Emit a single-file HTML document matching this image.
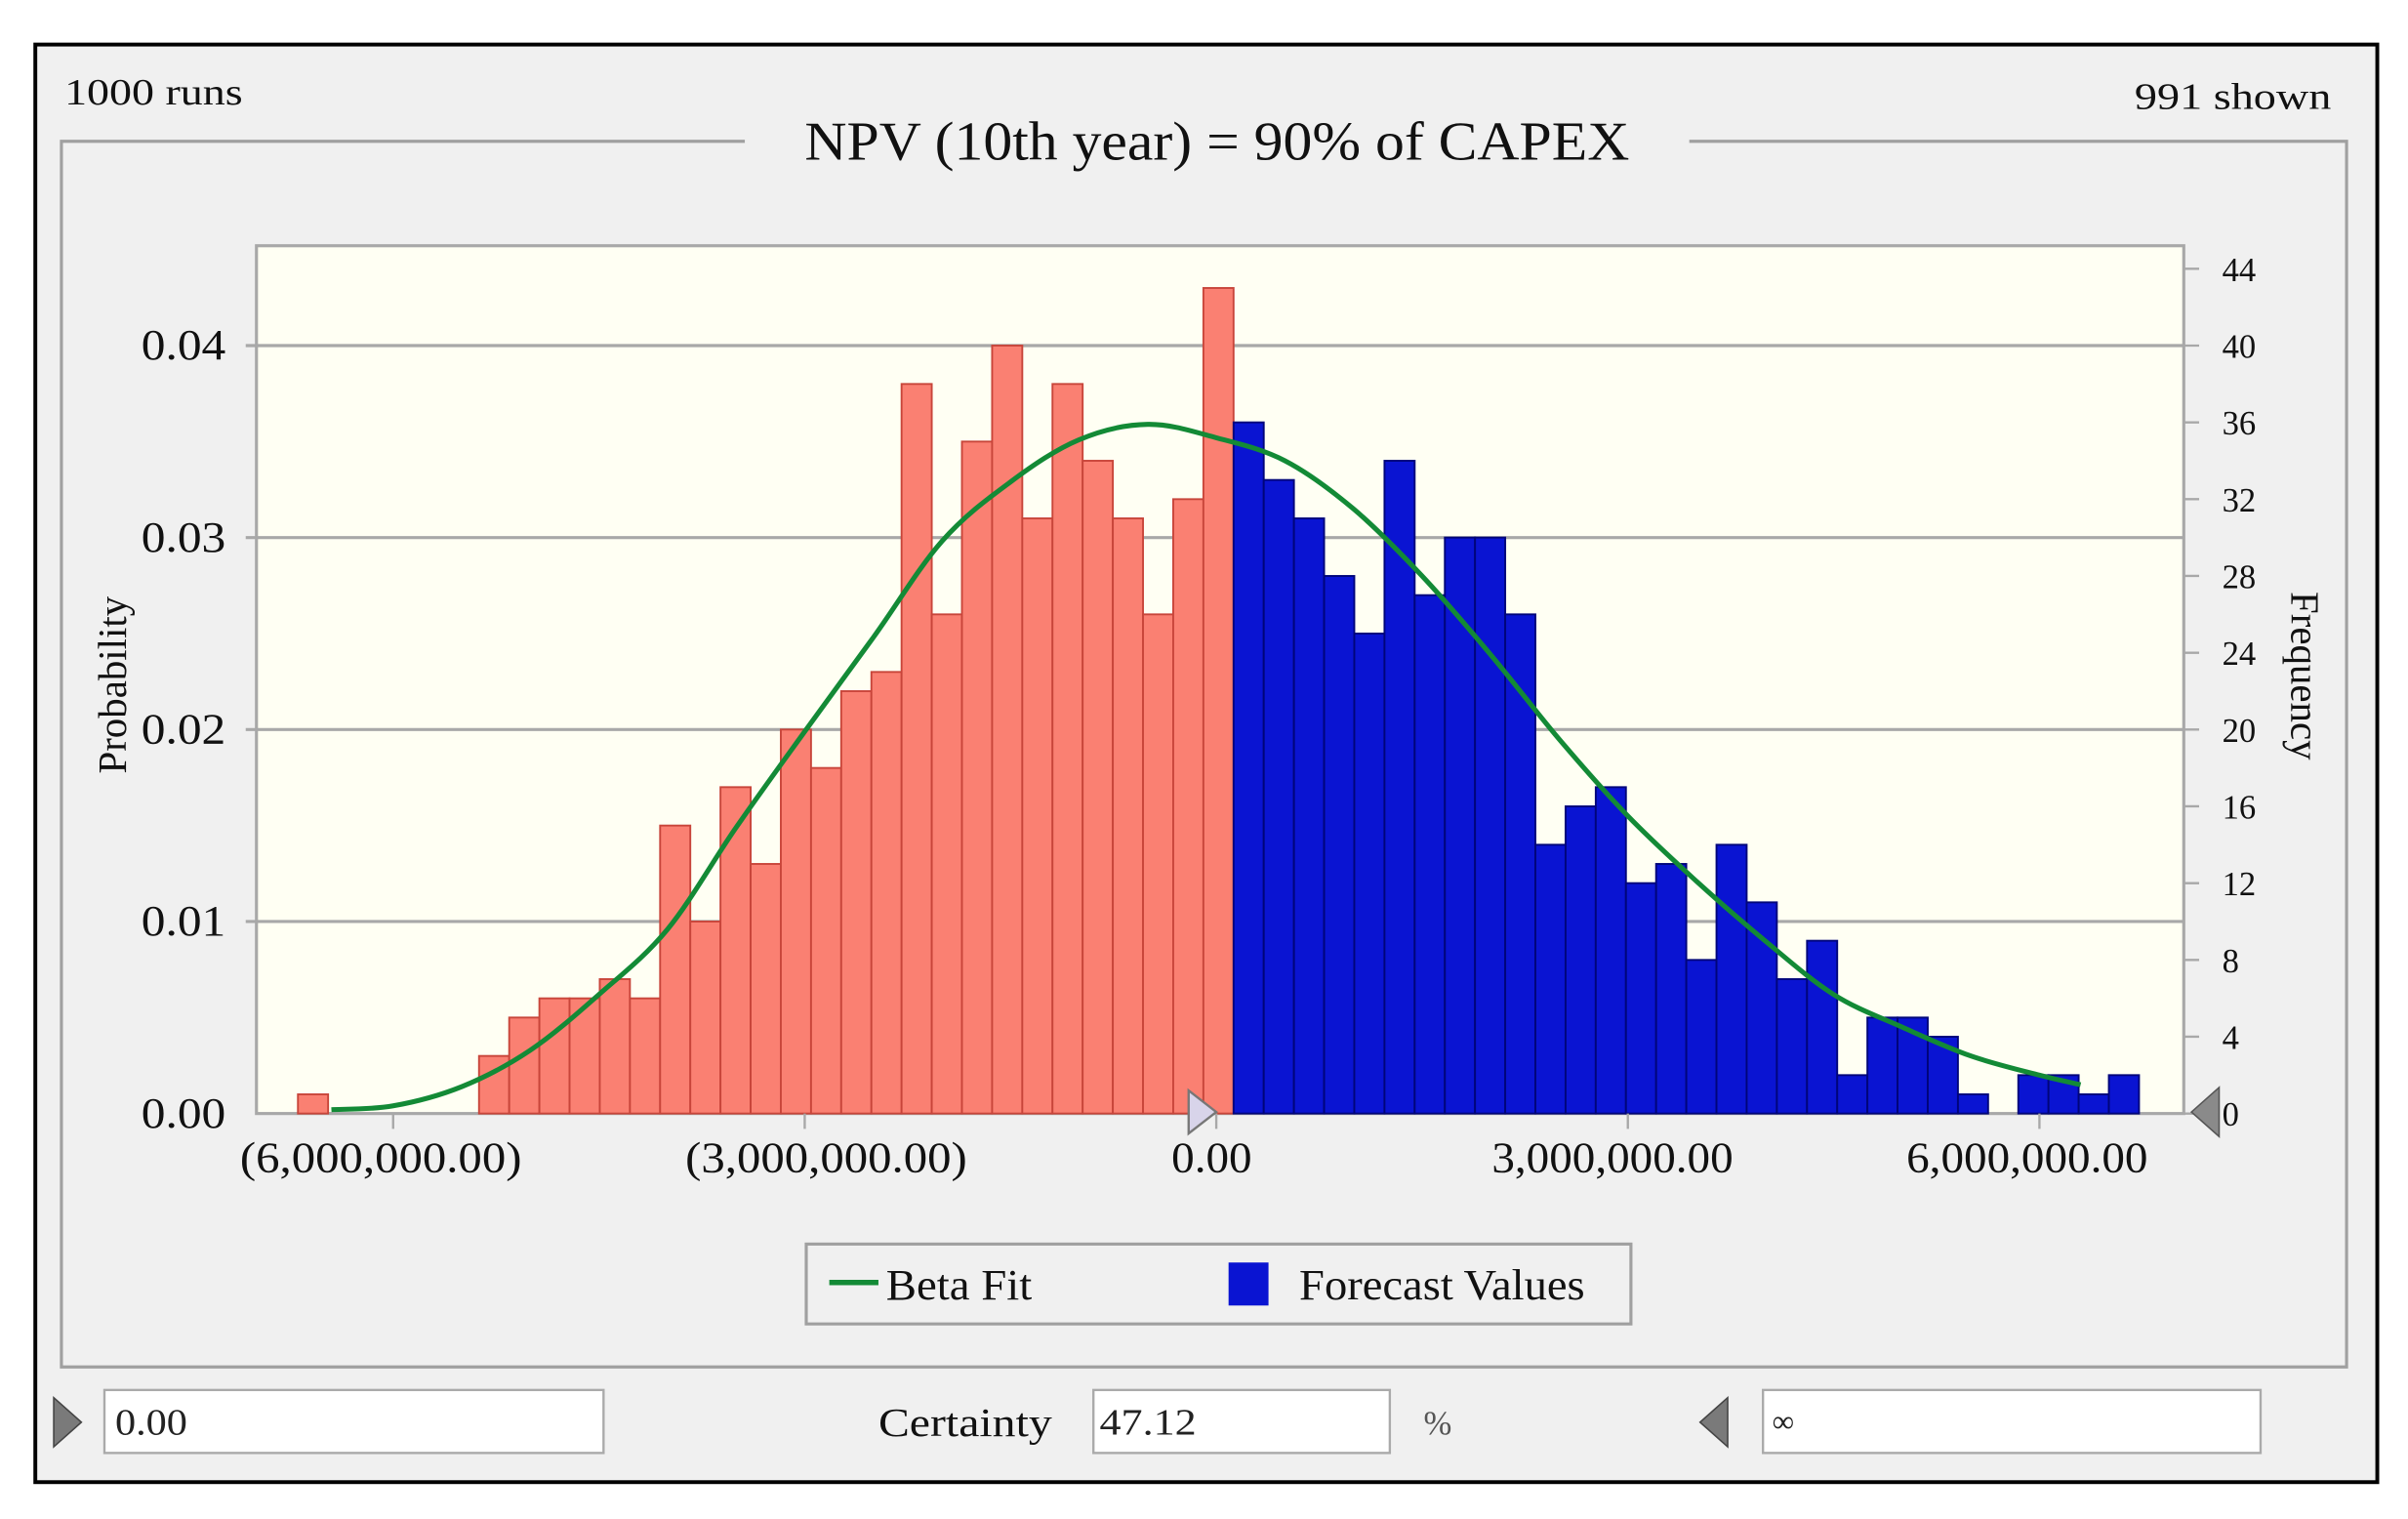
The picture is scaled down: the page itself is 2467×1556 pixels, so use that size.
<!DOCTYPE html>
<html><head><meta charset="utf-8"><style>
html,body{margin:0;padding:0;background:#fff;}
svg{display:block;font-family:"Liberation Serif",serif;}
</style></head><body>
<svg id="chart" width="2467" height="1556" viewBox="0 0 1568 989" preserveAspectRatio="none" xmlns="http://www.w3.org/2000/svg">
<rect x="0" y="0" width="1568" height="989" fill="#fff"/>
<rect x="23" y="29" width="1525" height="936" fill="#f0f0f0" stroke="#000" stroke-width="2.5"/>
<text x="42" y="68" font-size="24" fill="#111" textLength="116" lengthAdjust="spacingAndGlyphs">1000 runs</text>
<text x="1390" y="71" font-size="24" fill="#111" textLength="128" lengthAdjust="spacingAndGlyphs">991 shown</text>
<path d="M485,92 H40 V890 H1528 V92 H1100" fill="none" stroke="#a0a0a0" stroke-width="2"/>
<text x="524" y="104" font-size="36" fill="#111" textLength="537" lengthAdjust="spacingAndGlyphs">NPV (10th year) = 90% of CAPEX</text>
<rect x="167" y="160" width="1255" height="565" fill="#fffff3" stroke="#a8a8a8" stroke-width="2"/>
<g id="grid"></g>
<g id="bars"></g>
<path id="fit" fill="none" stroke="#138a36" stroke-width="3.2"/>
<g id="axes"></g>
<text transform="translate(82,446) rotate(-90)" font-size="26" text-anchor="middle" fill="#111">Probability</text>
<text transform="translate(1492,440) rotate(90)" font-size="26" text-anchor="middle" fill="#111">Frequency</text>
<polygon points="774,710 792,724 774,738" fill="#d8d4ea" stroke="#777" stroke-width="1.5"/>
<polygon points="1445,708 1427,724 1445,740" fill="#8a8a8a" stroke="#555" stroke-width="1"/>
<g>
<rect x="525" y="810" width="537" height="52" fill="#f0f0f0" stroke="#a0a0a0" stroke-width="2"/>
<line x1="540" y1="835" x2="572" y2="835" stroke="#138a36" stroke-width="3.5"/>
<text x="577" y="846" font-size="28" fill="#111" textLength="95" lengthAdjust="spacingAndGlyphs">Beta Fit</text>
<rect x="800" y="822" width="26" height="28" fill="#0a14d2"/>
<text x="846" y="846" font-size="28" fill="#111" textLength="186" lengthAdjust="spacingAndGlyphs">Forecast Values</text>
</g>
<polygon points="35,910 53,926 35,942" fill="#7a7a7a" stroke="#444" stroke-width="1"/>
<rect x="68" y="905" width="325" height="41" fill="#fff" stroke="#aaa" stroke-width="1.5"/>
<text x="75" y="934" font-size="24" fill="#222" textLength="47" lengthAdjust="spacingAndGlyphs">0.00</text>
<text x="572" y="935" font-size="26" fill="#111" textLength="113" lengthAdjust="spacingAndGlyphs">Certainty</text>
<rect x="712" y="905" width="193" height="41" fill="#fff" stroke="#aaa" stroke-width="1.5"/>
<text x="716" y="934" font-size="24" fill="#222" textLength="63" lengthAdjust="spacingAndGlyphs">47.12</text>
<text x="927" y="934" font-size="22" fill="#555">%</text>
<polygon points="1125,910 1107,926 1125,942" fill="#7a7a7a" stroke="#444" stroke-width="1"/>
<rect x="1148" y="905" width="324" height="41" fill="#fff" stroke="#aaa" stroke-width="1.5"/>
<text x="1154" y="932" font-size="20" fill="#222">∞</text>
</svg>
<script>
// bin counts (frequency), bins of width 0.22M starting at -6.694M
const counts = [1,0,0,0,0,0,3,5,6,6,7,6,15,10,17,13,20,18,22,23,38,26,35,40,31,38,34,31,26,32,43,
36,33,31,28,25,34,27,30,30,26,14,16,17,12,13,8,14,11,7,9,2,5,5,4,1,0,2,2,1,2];
const binStart = -6.694; // millions
const binWidth = 0.22;   // millions
const certaintyStart = 0; // millions
// beta fit curve
const fitX = [-6.45,-6.0,-5.5,-5.0,-4.5,-4.0,-3.5,-3.0,-2.5,-2.0,-1.5,-1.0,-0.5,0,0.5,1.0,1.5,2.0,2.5,3.0,3.5,4.0,4.5,5.0,5.5,6.0,6.3];
const fitP = [0.0002,0.0004,0.0014,0.0033,0.0062,0.0096,0.0149,0.0199,0.0248,0.0298,0.0329,0.0351,0.0359,0.0352,0.034,0.0315,0.028,0.0239,0.0195,0.0155,0.0121,0.009,0.0062,0.0045,0.003,0.002,0.0015];
const probTicks = [0,0.01,0.02,0.03,0.04];
const probLabels = ["0.00","0.01","0.02","0.03","0.04"];
const freqTicks = [0,4,8,12,16,20,24,28,32,36,40,44];
const xTicks = [-6,-3,0,3,6];
const xLabels = ["(6,000,000.00)","(3,000,000.00)","0.00","3,000,000.00","6,000,000.00"];

const NS = "http://www.w3.org/2000/svg";
const X = v => 792 + v * 268 / 3;
const YP = p => 725 - p * 12500;
const YF = c => 725 - c * 12.5;
function mk(tag, attrs, parent, txt){
  const e = document.createElementNS(NS, tag);
  for (const k in attrs) e.setAttribute(k, attrs[k]);
  if (txt !== undefined) e.textContent = txt;
  parent.appendChild(e); return e;
}
const grid = document.getElementById('grid');
const axes = document.getElementById('axes');
probTicks.forEach((p,i)=>{
  const y = YP(p);
  if (p > 0) {
    const g = mk('line',{x1:160,x2:1422,y1:y,y2:y,stroke:'#a8a8a8','stroke-width':2},grid);
    
    
  }
  const t = mk('text',{x:92,y:y+9,'font-size':28,fill:'#111',textLength:55,lengthAdjust:'spacingAndGlyphs'},axes,probLabels[i]);
  
  
});
freqTicks.forEach(c=>{
  const y = YF(c);
  mk('line',{x1:1422,x2:1432,y1:y,y2:y,stroke:'#a8a8a8','stroke-width':1.5},axes);
  const t = mk('text',{x:1447,y:y+8,'font-size':22,fill:'#111'},axes,String(c));
  
  
});
const labelNudge = [-8, 14, -3, -10, -8]; // layout only
xTicks.forEach((v,i)=>{
  const x = X(v);
  mk('line',{x1:x,x2:x,y1:725,y2:735,stroke:'#a8a8a8','stroke-width':1.5},axes);
  const len = xLabels[i].length * 13.1;
  const t = mk('text',{x:x + labelNudge[i] - len/2,y:763,'font-size':28,fill:'#111',textLength:len,lengthAdjust:'spacingAndGlyphs'},axes,xLabels[i]);
  
  
});
const bars = document.getElementById('bars');
counts.forEach((c,i)=>{
  if (c <= 0) return;
  const s = binStart + i*binWidth;
  const red = s < certaintyStart;
  const x0 = X(s), x1 = X(s+binWidth);
  const r = mk('rect',{x:x0,y:YF(c),width:x1-x0,height:YF(0)-YF(c),
    fill: red ? '#fa8072' : '#0a14d2', stroke: red ? '#c8453a' : '#00057a','stroke-width':1.2},bars);
  
  
});
// smooth curve (Catmull-Rom -> Bezier)
const pts = fitX.map((v,i)=>[X(v), YP(fitP[i])]);
let d = 'M' + pts[0][0].toFixed(1) + ',' + pts[0][1].toFixed(1);
for (let i=0;i<pts.length-1;i++){
  const p0 = pts[Math.max(0,i-1)], p1 = pts[i], p2 = pts[i+1], p3 = pts[Math.min(pts.length-1,i+2)];
  const c1 = [p1[0]+(p2[0]-p0[0])/6, p1[1]+(p2[1]-p0[1])/6];
  const c2 = [p2[0]-(p3[0]-p1[0])/6, p2[1]-(p3[1]-p1[1])/6];
  d += ' C'+c1[0].toFixed(1)+','+c1[1].toFixed(1)+' '+c2[0].toFixed(1)+','+c2[1].toFixed(1)+' '+p2[0].toFixed(1)+','+p2[1].toFixed(1);
}
document.getElementById('fit').setAttribute('d', d);
</script>
</body></html>
